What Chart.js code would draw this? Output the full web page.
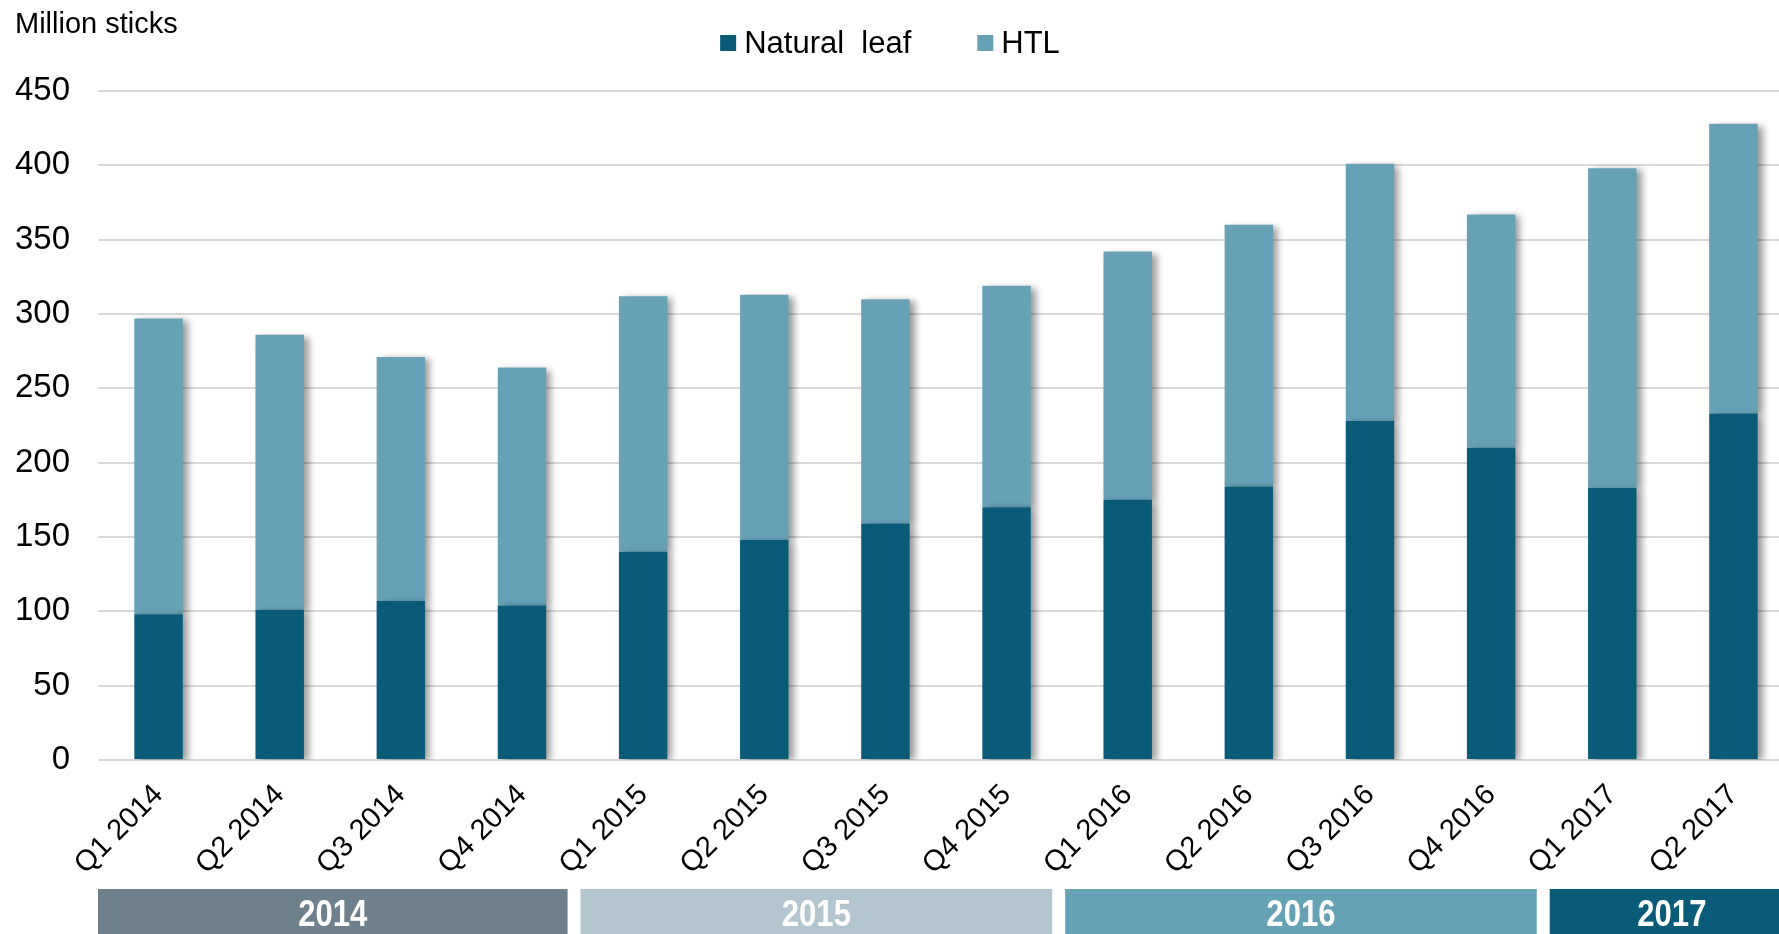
<!DOCTYPE html>
<html lang="en">
<head>
    <meta charset="UTF-8">
    <title>Million sticks</title>
    <script src="https://cdn.jsdelivr.net/npm/chart.js"></script>
    <style>
        html, body {
            margin: 0;
            padding: 0;
            background: #ffffff;
            overflow: hidden;
        }
        .chart-box {
            position: relative;
            width: 1800px;
            height: 934px;
        }
    </style>
</head>
<body>
    <div class="chart-box">
        <canvas id="sticksChart"></canvas>
    </div>

    <script>
        // quarters on the x axis
        const quarters = ["Q1 2014", "Q2 2014", "Q3 2014", "Q4 2014",
                          "Q1 2015", "Q2 2015", "Q3 2015", "Q4 2015",
                          "Q1 2016", "Q2 2016", "Q3 2016", "Q4 2016",
                          "Q1 2017", "Q2 2017"];
        // million sticks per quarter
        const naturalLeaf = [98, 101, 107, 104, 140, 148, 159, 170, 175, 184, 228, 210, 183, 233];
        const htl = [199, 185, 164, 160, 172, 165, 151, 149, 167, 176, 173, 157, 215, 195];

        // year bands under the axis
        const years = ["2014", "2015", "2016", "2017"];
        const yearSpans = [4, 4, 4, 2];
        const yearColors = ["#6e808c", "#b3c6d0", "#67a1b6", "#0a5b78"];

        const darkBlue = "#0a5b78";
        const lightBlue = "#67a1b6";

        const barShadow = {
            id: "barShadow",
            beforeDatasetsDraw(chart) {
                const ctx = chart.ctx;
                ctx.save();
                ctx.shadowColor = "rgba(0, 0, 0, 0.4)";
                ctx.shadowBlur = 7;
                ctx.shadowOffsetX = 5;
                ctx.shadowOffsetY = 2;
            },
            afterDatasetsDraw(chart) {
                chart.ctx.restore();
            }
        };

        const extras = {
            id: "extras",
            afterDraw(chart) {
                const ctx = chart.ctx;
                const xs = chart.scales.x;
                ctx.save();

                // unit label
                ctx.fillStyle = "#000";
                ctx.font = "29px 'Liberation Sans', Arial, sans-serif";
                ctx.textAlign = "left";
                ctx.textBaseline = "middle";
                ctx.fillText("Million sticks", 15, 25);

                // legend
                ctx.font = "31px 'Liberation Sans', Arial, sans-serif";
                const items = chart.data.datasets.map(ds => ({
                    label: ds.label,
                    color: ds.backgroundColor,
                    w: 16 + 8 + ctx.measureText(ds.label).width
                }));
                const gap = 66;
                let total = items.reduce((s, it) => s + it.w, 0) + gap * (items.length - 1);
                let lx = 890 - total / 2;
                items.forEach(it => {
                    ctx.fillStyle = it.color;
                    ctx.fillRect(lx, 35, 16, 16);
                    ctx.fillStyle = "#000";
                    ctx.fillText(it.label, lx + 24, 44);
                    lx += it.w + gap;
                });

                // year bands
                const step = xs.getPixelForValue(1) - xs.getPixelForValue(0);
                let start = 0;
                years.forEach((yr, i) => {
                    const end = start + yearSpans[i] - 1;
                    const last = i === years.length - 1;
                    const x0 = xs.getPixelForValue(start) - step / 2 - (i > 0 ? 2 : 0);
                    const x1 = xs.getPixelForValue(end) + step / 2 - (last ? 0 : 15);
                    ctx.fillStyle = yearColors[i];
                    ctx.fillRect(x0, 889, x1 - x0, 60);
                    // narrow bold label
                    ctx.save();
                    ctx.translate((x0 + x1) / 2, 916);
                    ctx.scale(0.84, 1);
                    ctx.fillStyle = "#fff";
                    ctx.font = "bold 37px 'Liberation Sans', Arial, sans-serif";
                    ctx.textAlign = "center";
                    ctx.fillText(yr, 0, 0);
                    ctx.restore();
                    start += yearSpans[i];
                });
                ctx.restore();
            }
        };

        const ctx = document.getElementById("sticksChart").getContext("2d");
        new Chart(ctx, {
            type: "bar",
            data: {
                labels: quarters,
                datasets: [
                    { label: "Natural  leaf", data: naturalLeaf, backgroundColor: darkBlue },
                    { label: "HTL", data: htl, backgroundColor: lightBlue }
                ]
            },
            options: {
                responsive: true,
                maintainAspectRatio: false,
                animation: false,
                layout: { padding: { top: 91, right: 6, left: 0, bottom: 0 } },
                datasets: {
                    bar: { barPercentage: 0.4, categoryPercentage: 1 }
                },
                plugins: {
                    legend: { display: false },
                    tooltip: { enabled: false }
                },
                scales: {
                    x: {
                        stacked: true,
                        grid: { display: false },
                        border: { display: false },
                        ticks: {
                            color: "#000",
                            font: { family: "'Liberation Sans', Arial, sans-serif", size: 29 },
                            maxRotation: 45,
                            minRotation: 45,
                            padding: 10
                        },
                        afterFit(scale) { scale.height = 174; }
                    },
                    y: {
                        stacked: true,
                        min: 0,
                        max: 450,
                        grid: { color: "#d9d9d9", lineWidth: 2, drawTicks: false },
                        border: { display: false },
                        ticks: {
                            stepSize: 50,
                            color: "#000",
                            padding: 28,
                            font: { family: "'Liberation Sans', Arial, sans-serif", size: 33 }
                        },
                        afterFit(scale) { scale.width = 98; }
                    }
                }
            },
            plugins: [barShadow, extras]
        });
    </script>
</body>
</html>
